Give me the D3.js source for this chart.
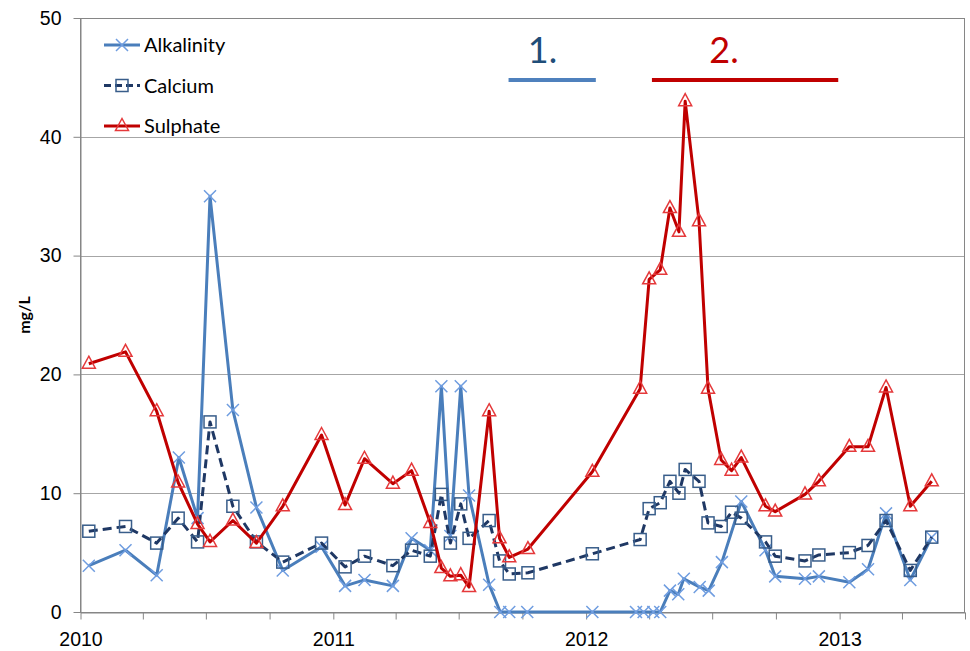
<!DOCTYPE html>
<meta charset="utf-8">
<style>

body { margin: 0; background: #fff; }
svg { font-family: Lato, "Open Sans", sans-serif; }

.grid line {
  stroke: #a6a6a6;
  stroke-width: 1px;
}

.axis path,
.axis line {
  stroke: #868686;
  stroke-width: 1px;
}

.axis text {
  font-size: 19.5px;
  fill: #000;
}

</style>


<svg class="chart" width="970" height="651"></svg>
<script src="https://d3js.org/d3.v7.min.js"></script>
<script>

var parseDate = d3.timeParse("%Y-%m-%d");

// sample dates shared by calcium and sulphate
var sampleDates = [
  "2010-01-13", "2010-03-07", "2010-04-21", "2010-05-22", "2010-06-19", "2010-07-07",
  "2010-08-09", "2010-09-12", "2010-10-20", "2010-12-15", "2011-01-18", "2011-02-15",
  "2011-03-28", "2011-04-24", "2011-05-21", "2011-06-06", "2011-06-19", "2011-07-04",
  "2011-07-16", "2011-08-14", "2011-08-29", "2011-09-12", "2011-10-09", "2012-01-10",
  "2012-03-19", "2012-04-01", "2012-04-17", "2012-05-01", "2012-05-14", "2012-05-23",
  "2012-06-12", "2012-06-25", "2012-07-14", "2012-07-29", "2012-08-12", "2012-09-16",
  "2012-09-30", "2012-11-12", "2012-12-02", "2013-01-15", "2013-02-11", "2013-03-09",
  "2013-04-13", "2013-05-14"
];

var calcium = [
  6.8, 7.2, 5.8, 7.9, 5.9, 16,
  8.9, 5.9, 4.2, 5.8, 3.8, 4.7,
  3.9, 5.2, 4.7, 9.9, 5.8, 9.1,
  6.2, 7.7, 4.3, 3.2, 3.3, 4.9,
  6.1, 8.7, 9.2, 11, 10, 12,
  11, 7.5, 7.2, 8.4, 7.9, 5.9,
  4.7, 4.3, 4.8, 5.0, 5.6, 7.7,
  3.5, 6.3
];

var sulphate = [
  20.9, 21.9, 16.9, 10.9, 7.4, 5.9,
  7.7, 5.8, 8.9, 14.9, 9.0, 12.9,
  10.8, 11.9, 7.5, 3.7, 3.0, 3.1,
  2.1, 16.9, 6.2, 4.6, 5.3, 11.8,
  18.8, 28, 28.8, 34, 32, 43,
  32.9, 18.8, 12.8, 11.9, 13, 8.9,
  8.45, 9.9, 11, 13.9, 13.9, 18.9,
  8.9, 11
];

// alkalinity was sampled on a slightly different set of dates
var alkDates = [
  "2010-01-13", "2010-03-07", "2010-04-21", "2010-05-23", "2010-06-19", "2010-07-07",
  "2010-08-09", "2010-09-12", "2010-10-20", "2010-12-15", "2011-01-18", "2011-02-15",
  "2011-03-28", "2011-04-24", "2011-05-21", "2011-06-06", "2011-06-19", "2011-07-04",
  "2011-07-16", "2011-08-14", "2011-08-30", "2011-09-12", "2011-10-08", "2012-01-10",
  "2012-03-13", "2012-03-24", "2012-04-07", "2012-04-17", "2012-05-01", "2012-05-13",
  "2012-05-21", "2012-06-13", "2012-06-26", "2012-07-15", "2012-08-12", "2012-09-16",
  "2012-09-30", "2012-11-12", "2012-12-02", "2013-01-15", "2013-02-11", "2013-03-09",
  "2013-04-13", "2013-05-14"
];

var alkalinity = [
  3.9, 5.2, 3.1, 13.0, 7.9, 35,
  17, 8.8, 3.5, 5.5, 2.2, 2.7,
  2.2, 6.2, 5.2, 19, 6.4, 19,
  9.8, 2.3, 0, 0, 0, 0,
  0, 0, 0, 0, 1.8, 1.5,
  2.8, 2.1, 1.8, 4.2, 9.3, 5.2,
  3.0, 2.8, 3.0, 2.5, 3.6, 8.3,
  2.7, 6.3
];

var yTicks = [0, 10, 20, 30, 40, 50];
var xStart = "2010-01-01", xEnd = "2013-07-01";

// the two numbered periods marked above the plot
var periodLabels = ["1.", "2."];
var periodStart = ["2011-09-11", "2012-04-05"];
var periodEnd = ["2012-01-15", "2012-12-30"];
var periodLabelAt = ["2011-10-30", "2012-07-18"];


var svg = d3.select(".chart"),
    margin = {top: 18, right: 5, bottom: 39, left: 80.5},
    width = +svg.attr("width") - margin.left - margin.right,
    height = +svg.attr("height") - margin.top - margin.bottom;

var g = svg.append("g")
    .attr("transform", "translate(" + margin.left + "," + margin.top + ")");

var x = d3.scaleTime()
    .domain([parseDate(xStart), parseDate(xEnd)])
    .range([0, width]);

var y = d3.scaleLinear()
    .domain([0, 50])
    .range([height, 0]);

// gridlines
g.append("g")
    .attr("class", "grid")
  .selectAll("line")
  .data(yTicks.slice(1, -1))
  .enter().append("line")
    .attr("x1", 0)
    .attr("x2", width)
    .attr("y1", function(d) { return Math.round(y(d)) + 0.5; })
    .attr("y2", function(d) { return Math.round(y(d)) + 0.5; });

// plot border
g.append("rect")
    .attr("x", 0)
    .attr("y", 0.5)
    .attr("width", width - 0.5)
    .attr("height", height)
    .attr("fill", "none")
    .attr("stroke", "#868686");

var quarters = d3.timeMonth.every(3).range(parseDate(xStart), d3.timeDay.offset(parseDate(xEnd), 1));

g.append("g")
    .attr("class", "axis")
    .attr("transform", "translate(0," + (height + 0.5) + ")")
    .call(d3.axisBottom(x)
        .tickValues(quarters)
        .tickSize(7)
        .tickSizeOuter(0)
        .tickPadding(13)
        .tickFormat(function(d) { return d.getMonth() === 0 ? d.getFullYear() : ""; }));

g.append("g")
    .attr("class", "axis")
    .call(d3.axisLeft(y)
        .tickValues(yTicks)
        .tickSize(7)
        .tickSizeOuter(0)
        .tickPadding(12));

svg.append("text")
    .attr("transform", "translate(30," + (margin.top + y(25)) + ") rotate(-90)")
    .attr("text-anchor", "middle")
    .style("font-size", "16px")
    .style("font-weight", "bold")
    .text("mg/L");

// marker shapes
function markerX(sel, color) {
  sel.append("path")
      .attr("d", "M-6,-6L6,6M-6,6L6,-6")
      .attr("fill", "none")
      .attr("stroke", color)
      .attr("stroke-width", 1.5);
}
function markerSquare(sel, color) {
  sel.append("rect")
      .attr("x", -6).attr("y", -6)
      .attr("width", 12).attr("height", 12)
      .attr("fill", "none")
      .attr("stroke", color)
      .attr("stroke-width", 1.5);
}
function markerTriangle(sel, color) {
  sel.append("path")
      .attr("d", "M0,-7.5L6.5,4.5L-6.5,4.5Z")
      .attr("fill", "none")
      .attr("stroke", color)
      .attr("stroke-width", 1.5);
}

var series = [
  {name: "Alkalinity", dates: alkDates, values: alkalinity, color: "#4a7ebb", mcolor: "#6f9de0", dash: null, marker: markerX},
  {name: "Calcium", dates: sampleDates, values: calcium, color: "#1f3864", mcolor: "#385d8a", dash: "9,5", marker: markerSquare},
  {name: "Sulphate", dates: sampleDates, values: sulphate, color: "#c00000", mcolor: "#e5393b", dash: null, marker: markerTriangle}
];

var line = d3.line()
    .x(function(d) { return x(d.date); })
    .y(function(d) { return y(d.value); });

series.forEach(function(s) {
  var pts = s.dates.map(function(d, i) { return {date: parseDate(d), value: s.values[i]}; });

  g.append("path")
      .datum(pts)
      .attr("fill", "none")
      .attr("stroke", s.color)
      .attr("stroke-width", 3)
      .attr("stroke-dasharray", s.dash)
      .attr("stroke-linejoin", "round")
      .attr("d", line);

  g.append("g")
    .selectAll("g")
    .data(pts)
    .enter().append("g")
      .attr("transform", function(d) { return "translate(" + x(d.date) + "," + y(d.value) + ")"; })
      .each(function() { s.marker(d3.select(this), s.mcolor); });
});

// legend
var legend = svg.append("g")
  .selectAll("g")
  .data(series)
  .enter().append("g")
    .attr("transform", function(d, i) { return "translate(104," + (45 + i * 40.5) + ")"; });

legend.append("line")
    .attr("x1", 0)
    .attr("x2", 36)
    .attr("stroke", function(d) { return d.color; })
    .attr("stroke-width", 3)
    .attr("stroke-dasharray", function(d) { return d.dash ? "7,4" : null; });

legend.each(function(d) {
  var m = d3.select(this).append("g").attr("transform", "translate(18,0)");
  d.marker(m, d.mcolor);
});

legend.append("text")
    .attr("x", 40)
    .attr("dy", "0.35em")
    .style("font-size", "20px")
    .text(function(d) { return d.name; });

// numbered periods
var periodColors = ["#4f81bd", "#c00000"];
var labelColors = ["#1f4e79", "#c00000"];

periodLabels.forEach(function(lbl, i) {
  g.append("line")
      .attr("x1", x(parseDate(periodStart[i])))
      .attr("x2", x(parseDate(periodEnd[i])))
      .attr("y1", 62)
      .attr("y2", 62)
      .attr("stroke", periodColors[i])
      .attr("stroke-width", 4);

  g.append("text")
      .attr("x", x(parseDate(periodLabelAt[i])))
      .attr("y", 45)
      .attr("text-anchor", "middle")
      .attr("fill", labelColors[i])
      .style("font-size", "36px")
      .text(lbl);
});

</script>
